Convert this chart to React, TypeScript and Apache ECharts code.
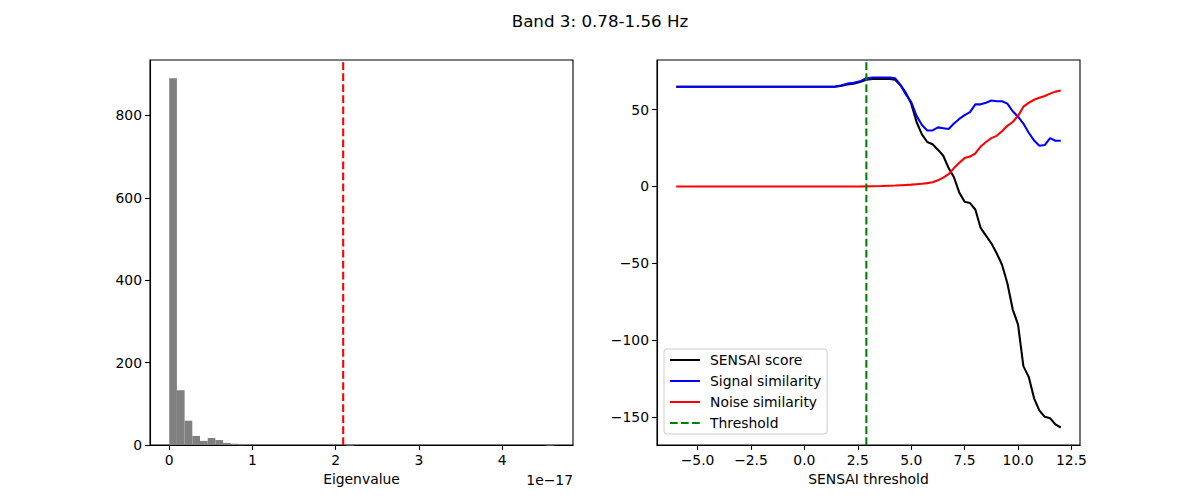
import React, { useEffect, useRef } from "react";
import * as echarts from "echarts";

// ---- Left panel: eigenvalue histogram (values in units of 1e-17) ----
const histCounts = [
  890, 133, 59, 22, 10, 17, 12, 5, 3, 2,
  0, 0, 0, 0, 0, 0, 0, 0, 0, 0,
  0, 0, 0, 1, 0, 0, 0, 0, 0, 0,
  0, 0, 0, 0, 0, 0, 0, 0, 0, 0,
  0, 0, 0, 0, 0, 0, 0, 0, 0, 1,
];
const eigMin = 0;
const eigMax = 4.62;
const eigThreshold = 2.09;
const histXTicks = [0, 1, 2, 3, 4];
const histYTicks = [0, 200, 400, 600, 800];

// ---- Right panel: SENSAI curves ----
const thresholds = [
  -6, 1.4, 1.7, 2.0, 2.3, 2.6, 2.9, 3.2, 3.6, 4.0, 4.25, 4.5, 4.75, 5.0, 5.25,
  5.5, 5.75, 6.0, 6.25, 6.5, 6.75, 7.0, 7.25, 7.5, 7.75, 8.0, 8.25, 8.5, 8.75,
  9.0, 9.25, 9.5, 9.75, 10.0, 10.25, 10.5, 10.75, 11.0, 11.25, 11.5, 11.75, 12.0,
];
const sensaiScore = [
  65, 65, 65.5, 66.5, 67, 68, 69.5, 70, 70, 70, 69.5, 66, 61, 54, 42,
  34, 29, 27.5, 24, 20, 12, 6, -4, -10, -10.8, -15, -27, -32, -37,
  -43.5, -51, -63, -80, -90, -117, -124, -138, -146, -150, -151, -155, -157,
];
const signalSimilarity = [
  65, 65, 65.8, 67, 67.5, 68.5, 70.5, 71, 71, 71, 70.5, 66, 60, 55, 46,
  40, 36.5, 36.5, 38.5, 38, 37.5, 41, 44, 46.5, 48.5, 53.5, 53.5, 54.5, 56,
  55.5, 55.5, 54, 49, 45.5, 41, 35, 30, 26.5, 27, 31.5, 29.8, 29.8,
];
const noiseSimilarity = [
  0, 0, 0, 0, 0, 0, 0.1, 0.2, 0.3, 0.5, 0.6, 0.8, 1.0, 1.2, 1.5,
  1.8, 2.2, 2.8, 4, 5.8, 8, 12, 15.5, 18.5, 19.5, 21.5, 26, 29, 31.5,
  33, 36, 39.5, 42, 46, 52, 54.5, 56.5, 57.8, 59, 60.5, 61.8, 62.5,
];
const sensaiThreshold = 2.9;
const rightXTicks = [-5, -2.5, 0, 2.5, 5, 7.5, 10, 12.5];
const rightYTicks = [-150, -100, -50, 0, 50];

const FONT = "DejaVu Sans";
const FS = 13.9;
const LW = 2.08;
const DASH = [7.7, 3.33];

const minus = (s: string) => s.replace("-", "\u2212");

export default function App() {
  const ref = useRef<HTMLDivElement>(null);

  useEffect(() => {
    if (!ref.current) return;
    const chart = echarts.init(ref.current, null, { renderer: "svg" });

    const binW = (eigMax - eigMin) / histCounts.length;
    const histData = histCounts.map((c, i) => [eigMin + i * binW, eigMin + (i + 1) * binW, c]);
    const histYMax = Math.max(...histCounts) * 1.05;
    const xSpan = eigMax - eigMin;

    const tMin = Math.min(...thresholds);
    const tMax = Math.max(...thresholds);
    const tPad = (tMax - tMin) * 0.05;
    const allY = [...sensaiScore, ...signalSimilarity, ...noiseSimilarity];
    const yMinD = Math.min(...allY);
    const yMaxD = Math.max(...allY);
    const yPad = (yMaxD - yMinD) * 0.05;
    const rYMin = yMinD - yPad;
    const rYMax = yMaxD + yPad;

    const axisCommon = {
      axisLine: { show: true, onZero: false, lineStyle: { color: "#000", width: 1.1 } },
      axisTick: { show: true, length: 4.9, inside: false, lineStyle: { color: "#000", width: 1.1 } },
      splitLine: { show: false },
    };
    const labelStyle = { color: "#000", fontFamily: FONT, fontSize: FS, margin: 8 };

    const option: any = {
      animation: false,
      backgroundColor: "#fff",
      title: {
        text: "Band 3: 0.78-1.56 Hz",
        left: "center",
        top: 7,
        textStyle: { fontFamily: FONT, fontSize: 16.7, fontWeight: "normal", color: "#000" },
      },
      grid: [
        { left: 150, top: 60, width: 423, height: 385, show: true, borderColor: "#000", borderWidth: 1.1, backgroundColor: "transparent" },
        { left: 657, top: 60, width: 423, height: 385, show: true, borderColor: "#000", borderWidth: 1.1, backgroundColor: "transparent" },
      ],
      xAxis: [
        {
          type: "value",
          gridIndex: 0,
          min: eigMin - xSpan * 0.05,
          max: eigMax + xSpan * 0.05,
          ...axisCommon,
          axisTick: { ...axisCommon.axisTick, customValues: histXTicks },
          axisLabel: { ...labelStyle, customValues: histXTicks, formatter: (v: number) => String(v) },
          name: "Eigenvalue",
          nameLocation: "middle",
          nameGap: 27,
          nameTextStyle: { fontFamily: FONT, fontSize: FS, color: "#000" },
        },
        {
          type: "value",
          gridIndex: 1,
          min: tMin - tPad,
          max: tMax + tPad,
          ...axisCommon,
          axisTick: { ...axisCommon.axisTick, customValues: rightXTicks },
          axisLabel: { ...labelStyle, customValues: rightXTicks, formatter: (v: number) => minus(v.toFixed(1)) },
          name: "SENSAI threshold",
          nameLocation: "middle",
          nameGap: 27,
          nameTextStyle: { fontFamily: FONT, fontSize: FS, color: "#000" },
        },
      ],
      yAxis: [
        {
          type: "value",
          gridIndex: 0,
          min: 0,
          max: histYMax,
          ...axisCommon,
          axisTick: { ...axisCommon.axisTick, customValues: histYTicks },
          axisLabel: { ...labelStyle, customValues: histYTicks, formatter: (v: number) => String(v) },
        },
        {
          type: "value",
          gridIndex: 1,
          min: rYMin,
          max: rYMax,
          ...axisCommon,
          axisTick: { ...axisCommon.axisTick, customValues: rightYTicks },
          axisLabel: { ...labelStyle, customValues: rightYTicks, formatter: (v: number) => minus(String(v)) },
        },
      ],
      legend: {
        data: ["SENSAI score", "Signal similarity", "Noise similarity", "Threshold"],
        orient: "vertical",
        left: 664,
        top: 349,
        itemWidth: 30,
        itemHeight: 14,
        itemGap: 7,
        padding: [4, 6, 4, 5],
        borderColor: "#cccccc",
        borderWidth: 1,
        borderRadius: 3,
        backgroundColor: "rgba(255,255,255,0.8)",
        itemStyle: { opacity: 0, borderWidth: 0 },
        textStyle: { fontFamily: FONT, fontSize: FS, color: "#000", padding: [0, 0, 0, 5] },
      },
      graphic: [
        {
          type: "text",
          x: 573,
          y: 480,
          style: {
            text: "1e\u221217",
            fontFamily: FONT,
            fontSize: FS,
            fill: "#000",
            textAlign: "right",
            textVerticalAlign: "middle",
          },
        },
      ],
      series: [
        {
          type: "custom",
          name: "hist",
          xAxisIndex: 0,
          yAxisIndex: 0,
          data: histData,
          encode: { x: [0, 1], y: 2 },
          renderItem: (params: any, api: any) => {
            const x0 = api.value(0);
            const x1 = api.value(1);
            const c = api.value(2);
            if (!c) return null;
            const p0 = api.coord([x0, 0]);
            const p1 = api.coord([x1, c]);
            return {
              type: "rect",
              shape: { x: p0[0], y: p1[1], width: p1[0] - p0[0], height: Math.max(p0[1] - p1[1], 1) },
              style: { fill: "#808080" },
            };
          },
        },
        {
          type: "line",
          name: "eigThreshold",
          xAxisIndex: 0,
          yAxisIndex: 0,
          data: [[eigThreshold, 0], [eigThreshold, histYMax]],
          symbol: "none",
          lineStyle: { color: "#ff0000", width: LW, type: DASH },
        },
        {
          type: "line",
          name: "SENSAI score",
          xAxisIndex: 1,
          yAxisIndex: 1,
          data: thresholds.map((t, i) => [t, sensaiScore[i]]),
          symbol: "none",
          color: "#000000",
          lineStyle: { color: "#000000", width: LW },
        },
        {
          type: "line",
          name: "Signal similarity",
          xAxisIndex: 1,
          yAxisIndex: 1,
          data: thresholds.map((t, i) => [t, signalSimilarity[i]]),
          symbol: "none",
          color: "#0000ff",
          lineStyle: { color: "#0000ff", width: LW },
        },
        {
          type: "line",
          name: "Noise similarity",
          xAxisIndex: 1,
          yAxisIndex: 1,
          data: thresholds.map((t, i) => [t, noiseSimilarity[i]]),
          symbol: "none",
          color: "#ff0000",
          lineStyle: { color: "#ff0000", width: LW },
        },
        {
          type: "line",
          name: "Threshold",
          xAxisIndex: 1,
          yAxisIndex: 1,
          data: [[sensaiThreshold, rYMin], [sensaiThreshold, rYMax]],
          symbol: "none",
          color: "#008000",
          lineStyle: { color: "#008000", width: LW, type: DASH },
        },
      ],
    };

    chart.setOption(option);
    return () => chart.dispose();
  }, []);

  return (
    <div
      ref={ref}
      style={{ position: "fixed", left: 0, top: 0, width: 1200, height: 500 }}
    />
  );
}
